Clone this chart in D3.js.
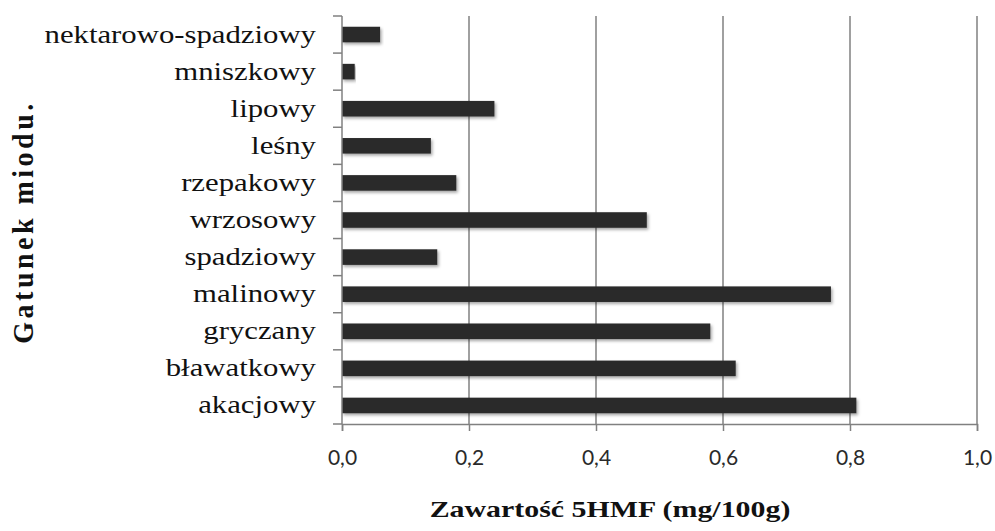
<!DOCTYPE html>
<html>
<head>
<meta charset="utf-8">
<script src="https://cdn.jsdelivr.net/npm/d3@7"></script>
<style>
  html, body { margin: 0; padding: 0; background: #fff; }
  svg { display: block; }
</style>
</head>
<body>
<svg id="chart" width="995" height="531"></svg>
<script>
// Honey varieties, listed bottom to top as drawn
const categories = [
  "akacjowy", "bławatkowy", "gryczany", "malinowy", "spadziowy",
  "wrzosowy", "rzepakowy", "leśny", "lipowy", "mniszkowy", "nektarowo-spadziowy"
];
// 5HMF content (mg/100g)
const values = [0.81, 0.62, 0.58, 0.77, 0.15, 0.48, 0.18, 0.14, 0.24, 0.02, 0.06];
const xTicks = [0, 0.2, 0.4, 0.6, 0.8, 1.0];
const xTitle = "Zawartość 5HMF (mg/100g)";
const yTitle = "Gatunek miodu.";

const svg = d3.select("#chart");
const plotLeft = 342, plotRight = 977, plotTop = 16, plotBottom = 424;
const serif = "'Liberation Serif', 'Times New Roman', serif";

const x = d3.scaleLinear().domain([0, 1]).range([plotLeft, plotRight]);
const y = d3.scaleBand().domain(categories).range([plotBottom, plotTop]).paddingInner(0).paddingOuter(0);

const defs = svg.append("defs");
const f = defs.append("filter").attr("id", "shadow").attr("x", "-5%").attr("y", "-40%").attr("width", "115%").attr("height", "200%");
f.append("feDropShadow").attr("dx", 1.5).attr("dy", 2).attr("stdDeviation", 1.6).attr("flood-color", "#000").attr("flood-opacity", 0.35);

// vertical gridlines
svg.append("g").selectAll("line").data(xTicks.slice(1)).join("line")
  .attr("x1", d => x(d)).attr("x2", d => x(d))
  .attr("y1", plotTop).attr("y2", plotBottom)
  .attr("stroke", "#808080").attr("stroke-width", 1.5);

// bars
const barH = y.bandwidth() * 0.42;
svg.append("g").selectAll("rect").data(categories).join("rect")
  .attr("x", x(0))
  .attr("y", (d) => y(d) + (y.bandwidth() - barH) / 2)
  .attr("width", (d, i) => x(values[i]) - x(0))
  .attr("height", barH)
  .attr("fill", "#2c2c2c")
  .attr("filter", "url(#shadow)");

// x axis
const xAxis = d3.axisBottom(x).tickValues(xTicks).tickSize(7).tickPadding(19)
  .tickFormat(d => d3.format(".1f")(d).replace(".", ","));
const gx = svg.append("g").attr("transform", `translate(0,${plotBottom})`).call(xAxis);
gx.select(".domain").attr("stroke", "#808080").attr("stroke-width", 1.5);
gx.selectAll(".tick line").attr("stroke", "#808080").attr("stroke-width", 1.5);
gx.selectAll(".tick text").attr("font-family", "Lato, 'Open Sans', sans-serif")
  .attr("font-size", 21).attr("fill", "#2a2a2a");

// y axis: ticks at category boundaries
svg.append("line").attr("x1", plotLeft).attr("x2", plotLeft).attr("y1", plotTop).attr("y2", plotBottom)
  .attr("stroke", "#808080").attr("stroke-width", 1.5);
const bounds = d3.range(categories.length + 1).map(i => plotBottom - i * y.step());
svg.append("g").selectAll("line").data(bounds).join("line")
  .attr("x1", plotLeft - 9).attr("x2", plotLeft).attr("y1", d => d).attr("y2", d => d)
  .attr("stroke", "#808080").attr("stroke-width", 1.5);

// category labels (wide serif)
svg.append("g").selectAll("text").data(categories).join("text")
  .attr("transform", d => `translate(316,${y(d) + y.bandwidth() / 2}) scale(1.23,1)`)
  .attr("dy", "0.32em")
  .attr("text-anchor", "end")
  .attr("font-family", serif)
  .attr("font-size", 25)
  .attr("fill", "#111")
  .text(d => d);

// axis titles
svg.append("text")
  .attr("transform", "translate(610,517) scale(1.3,1)")
  .attr("text-anchor", "middle")
  .attr("font-family", serif)
  .attr("font-weight", "bold").attr("font-size", 23).attr("fill", "#111")
  .text(xTitle);

svg.append("text")
  .attr("transform", "translate(33,222) scale(1.07,1) rotate(-90)")
  .attr("text-anchor", "middle")
  .attr("font-family", serif)
  .attr("font-weight", "bold").attr("font-size", 28).attr("fill", "#111")
  .attr("letter-spacing", 3.5)
  .text(yTitle);
</script>
</body>
</html>
